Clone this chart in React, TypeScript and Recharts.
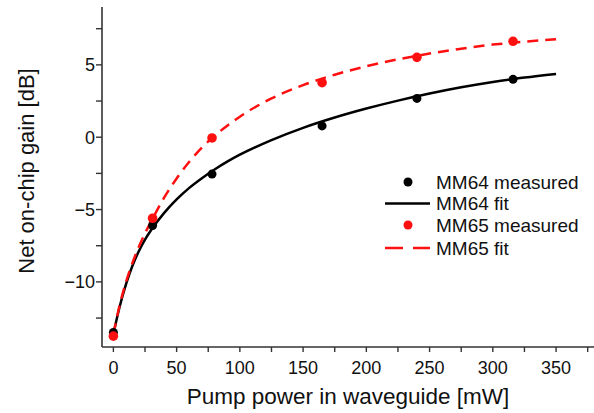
import React from "react";
import {
  ComposedChart,
  Line,
  Scatter,
  XAxis,
  YAxis,
  Legend,
} from "recharts";

// ---- data ----
const measuredPower = [0, 31, 78, 165, 240, 316];
const mm64Measured = [-13.5, -6.1, -2.55, 0.78, 2.68, 4.0];
const mm65Measured = [-13.75, -5.6, -0.05, 3.77, 5.52, 6.63];

const fitPower = [0, 5, 10, 15, 20, 25, 30, 40, 50, 60, 70, 80, 90, 100, 125, 150, 175, 200, 225, 250, 275, 300, 325, 350];
const mm64Fit = [-13.6, -11.7, -10.15, -8.9, -7.9, -7.08, -6.4, -5.25, -4.3, -3.5, -2.83, -2.23, -1.69, -1.21, -0.2, 0.65, 1.36, 1.98, 2.53, 3.02, 3.45, 3.82, 4.12, 4.37];
const mm65Fit = [-13.6, -11.6, -10.0, -8.7, -7.6, -6.65, -5.8, -4.2, -2.85, -1.7, -0.72, 0.1, 0.8, 1.42, 2.68, 3.6, 4.32, 4.9, 5.38, 5.78, 6.12, 6.4, 6.6, 6.77];

const xTicks = [0, 25, 50, 75, 100, 125, 150, 175, 200, 225, 250, 275, 300, 325, 350, 375];
const xLabelStep = 50;
const yTicks = [-12.5, -10, -7.5, -5, -2.5, 0, 2.5, 5, 7.5];
const yLabelStep = 5;

const xTitle = "Pump power in waveguide [mW]";
const yTitle = "Net on-chip gain [dB]";
const legendNames = ["MM64 measured", "MM64 fit", "MM65 measured", "MM65 fit"];

const mm64MeasuredData = measuredPower.map((p, i) => ({ p, g: mm64Measured[i] }));
const mm65MeasuredData = measuredPower.map((p, i) => ({ p, g: mm65Measured[i] }));
const mm64FitData = fitPower.map((p, i) => ({ p, g: mm64Fit[i] }));
const mm65FitData = fitPower.map((p, i) => ({ p, g: mm65Fit[i] }));

const FONT = "'Liberation Sans', Arial, sans-serif";
const RED = "#ff1010";
const AXIS = "#333";

const XTick = (props: any) => {
  const { x, y, payload } = props;
  if (payload.value % xLabelStep !== 0) return <g />;
  return (
    <text x={x} y={y + 22} textAnchor="middle" fontSize={18} fontFamily={FONT} fill="#111">
      {payload.value}
    </text>
  );
};

const YTick = (props: any) => {
  const { x, y, payload } = props;
  if (payload.value % yLabelStep !== 0) return <g />;
  const v = payload.value;
  const s = v < 0 ? "\u2212" + Math.abs(v) : String(v);
  return (
    <text x={x - 1} y={y} dy={6.5} textAnchor="end" fontSize={18} fontFamily={FONT} fill="#111">
      {s}
    </text>
  );
};

const renderLegend = () => (
  <svg width={220} height={95} style={{ display: "block" }}>
    <g fontFamily={FONT} fontSize={19} fill="#111">
      <circle cx={28} cy={12} r={4.5} fill="#000" />
      <text x={56} y={18.5}>{legendNames[0]}</text>
      <line x1={5} y1={33.5} x2={50} y2={33.5} stroke="#000" strokeWidth={2.5} />
      <text x={56} y={40}>{legendNames[1]}</text>
      <circle cx={28} cy={55} r={4.5} fill={RED} />
      <text x={56} y={61.5}>{legendNames[2]}</text>
      <line x1={5} y1={78} x2={50} y2={78} stroke={RED} strokeWidth={2.5} strokeDasharray="18 10" />
      <text x={56} y={84.5}>{legendNames[3]}</text>
    </g>
  </svg>
);

export default function App() {
  return (
    <div style={{ position: "absolute", left: 0, top: 0, width: 594, height: 413, background: "#fff" }}>
      <ComposedChart
        width={594}
        height={413}
        margin={{ top: 7, right: 0, bottom: 0, left: 0 }}
      >
        <XAxis
          dataKey="p"
          type="number"
          domain={[-9, 380]}
          ticks={xTicks}
          interval={0}
          tick={<XTick />}
          tickSize={5}
          tickMargin={0}
          height={66}
          axisLine={{ stroke: AXIS, strokeWidth: 1.6 }}
          tickLine={{ stroke: AXIS, strokeWidth: 1.4 }}
          allowDataOverflow
          label={(p: any) => (
            <text x={348} y={404} textAnchor="middle" fontSize={22.5} fontFamily={FONT} fill="#111">
              {xTitle}
            </text>
          )}
        />
        <YAxis
          dataKey="g"
          type="number"
          domain={[-14.5, 9]}
          ticks={yTicks}
          interval={0}
          tick={<YTick />}
          tickSize={6}
          tickMargin={0}
          width={102}
          axisLine={{ stroke: AXIS, strokeWidth: 1.6 }}
          tickLine={{ stroke: AXIS, strokeWidth: 1.4 }}
          allowDataOverflow
          label={(p: any) => (
            <text
              x={0}
              y={0}
              transform="translate(34, 171) rotate(-90)"
              textAnchor="middle"
              fontSize={22}
              fontFamily={FONT}
              fill="#111"
            >
              {yTitle}
            </text>
          )}
        />
        <Legend
          layout="horizontal"
          verticalAlign="middle"
          align="center"
          content={renderLegend}
          wrapperStyle={{ position: "absolute", left: 380, top: 170, width: 220, height: 95 }}
        />
        <Line
          data={mm64FitData}
          dataKey="g"
          type="monotone"
          stroke="#000"
          strokeWidth={2.5}
          dot={false}
          activeDot={false}
          isAnimationActive={false}
          name={legendNames[1]}
        />
        <Line
          data={mm65FitData}
          dataKey="g"
          type="monotone"
          stroke={RED}
          strokeWidth={2.5}
          strokeDasharray="11 7"
          dot={false}
          activeDot={false}
          isAnimationActive={false}
          name={legendNames[3]}
        />
        <Scatter
          data={mm64MeasuredData}
          dataKey="g"
          fill="#000"
          isAnimationActive={false}
          name={legendNames[0]}
          shape={(p: any) => <circle cx={p.cx} cy={p.cy} r={4.5} fill="#000" />}
        />
        <Scatter
          data={mm65MeasuredData}
          dataKey="g"
          fill={RED}
          isAnimationActive={false}
          name={legendNames[2]}
          shape={(p: any) => <circle cx={p.cx} cy={p.cy} r={4.8} fill={RED} />}
        />
      </ComposedChart>
    </div>
  );
}
